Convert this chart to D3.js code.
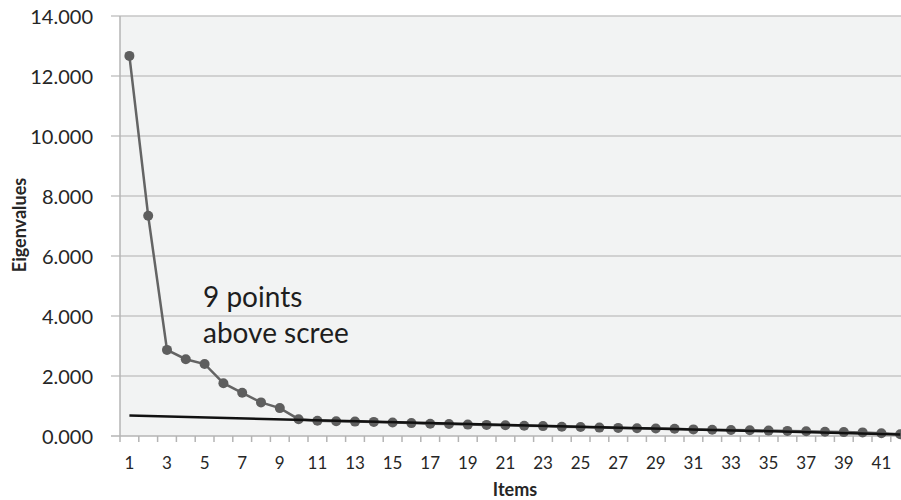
<!DOCTYPE html>
<html>
<head>
<meta charset="utf-8">
<script src="https://cdn.jsdelivr.net/npm/d3@7"></script>
<style>
  body { margin: 0; background: #fff; }
  svg { display: block; font-family: Lato, "Open Sans", sans-serif; }
</style>
</head>
<body>
<svg id="chart" width="901" height="500"></svg>
<script>
// items 1..42
var items = d3.range(1, 43);
// eigenvalues
var eigenvalues = [12.67, 7.34, 2.87, 2.56, 2.40, 1.76, 1.44, 1.12, 0.93, 0.56,
  0.51, 0.49, 0.48, 0.47, 0.45, 0.43, 0.41, 0.40, 0.38, 0.37,
  0.36, 0.34, 0.33, 0.31, 0.30, 0.28, 0.27, 0.26, 0.25, 0.24,
  0.22, 0.21, 0.20, 0.19, 0.18, 0.17, 0.16, 0.14, 0.13, 0.12,
  0.09, 0.06];
// scree reference line (start / end)
var screeItems = [1, 42];
var screeValues = [0.68, 0.05];
var yTicks = [0, 2, 4, 6, 8, 10, 12, 14];
var xLabels = items.filter(function(d){ return d % 2 === 1; });
var noteLines = ["9 points", "above scree"];

var svg = d3.select("#chart");
var plotLeft = 120, plotTop = 16, plotBottom = 436;
var step = 18.8;

var x = d3.scaleBand()
    .domain(items)
    .range([plotLeft, plotLeft + step * items.length]);
var y = d3.scaleLinear()
    .domain([0, 14])
    .range([plotBottom, plotTop]);
var cx = function(d){ return x(d) + x.bandwidth() / 2; };

// plot background
svg.append("rect")
    .attr("x", plotLeft).attr("y", plotTop)
    .attr("width", step * items.length).attr("height", plotBottom - plotTop)
    .attr("fill", "#f2f3f3");

// horizontal grid lines (extend a bit left as tick marks)
svg.append("g")
    .selectAll("line")
    .data(yTicks)
    .enter()
    .append("line")
    .attr("x1", plotLeft - 9).attr("x2", 901)
    .attr("y1", function(d){ return y(d); })
    .attr("y2", function(d){ return y(d); })
    .attr("stroke", function(d){ return d === 0 ? "#b4b4b4" : "#c6c6c6"; })
    .attr("stroke-width", 1.5);

// y axis line
svg.append("line")
    .attr("x1", plotLeft).attr("x2", plotLeft)
    .attr("y1", plotTop).attr("y2", plotBottom + 6)
    .attr("stroke", "#b4b4b4").attr("stroke-width", 1.5);

// x tick marks at band edges
svg.append("g")
    .selectAll("line")
    .data(items)
    .enter()
    .append("line")
    .attr("x1", function(d){ return x(d) + x.bandwidth(); })
    .attr("x2", function(d){ return x(d) + x.bandwidth(); })
    .attr("y1", plotBottom).attr("y2", plotBottom + 6)
    .attr("stroke", "#b4b4b4").attr("stroke-width", 1.5);

// y labels
svg.append("g")
    .selectAll("text")
    .data(yTicks)
    .enter()
    .append("text")
    .attr("x", 93)
    .attr("y", function(d){ return y(d) + 7.5; })
    .attr("text-anchor", "end")
    .attr("font-size", 20)
    .attr("fill", "#262626")
    .text(function(d){ return d3.format(".3f")(d); });

// x labels
svg.append("g")
    .selectAll("text")
    .data(xLabels)
    .enter()
    .append("text")
    .attr("x", function(d){ return cx(d); })
    .attr("y", 469)
    .attr("text-anchor", "middle")
    .attr("font-size", 17)
    .attr("fill", "#262626")
    .text(function(d){ return d; });

// axis titles
svg.append("text")
    .attr("x", 515).attr("y", 496)
    .attr("text-anchor", "middle")
    .attr("font-size", 18).attr("font-weight", "bold")
    .attr("fill", "#262626")
    .text("Items");

svg.append("text")
    .attr("transform", "translate(26,225) rotate(-90)")
    .attr("text-anchor", "middle")
    .attr("font-size", 18).attr("font-weight", "bold")
    .attr("fill", "#262626")
    .text("Eigenvalues");

// eigenvalue series
var line = d3.line()
    .x(function(d, i){ return cx(items[i]); })
    .y(function(d){ return y(d); });

svg.append("path")
    .datum(eigenvalues)
    .attr("d", line)
    .attr("fill", "none")
    .attr("stroke", "#646464")
    .attr("stroke-width", 2.5);

svg.append("g")
    .selectAll("circle")
    .data(eigenvalues)
    .enter()
    .append("circle")
    .attr("cx", function(d, i){ return cx(items[i]); })
    .attr("cy", function(d){ return y(d); })
    .attr("r", 5)
    .attr("fill", "#5e5e5e");

// scree line
var screeLine = d3.line()
    .x(function(d, i){ return cx(screeItems[i]); })
    .y(function(d){ return y(d); });

svg.append("path")
    .datum(screeValues)
    .attr("d", screeLine)
    .attr("fill", "none")
    .attr("stroke", "#111")
    .attr("stroke-width", 2.5);

// annotation
svg.append("g")
    .selectAll("text")
    .data(noteLines)
    .enter()
    .append("text")
    .attr("x", 203)
    .attr("y", function(d, i){ return 307 + i * 36; })
    .attr("font-size", 28)
    .attr("fill", "#1e1e1e")
    .text(function(d){ return d; });
</script>
</body>
</html>
